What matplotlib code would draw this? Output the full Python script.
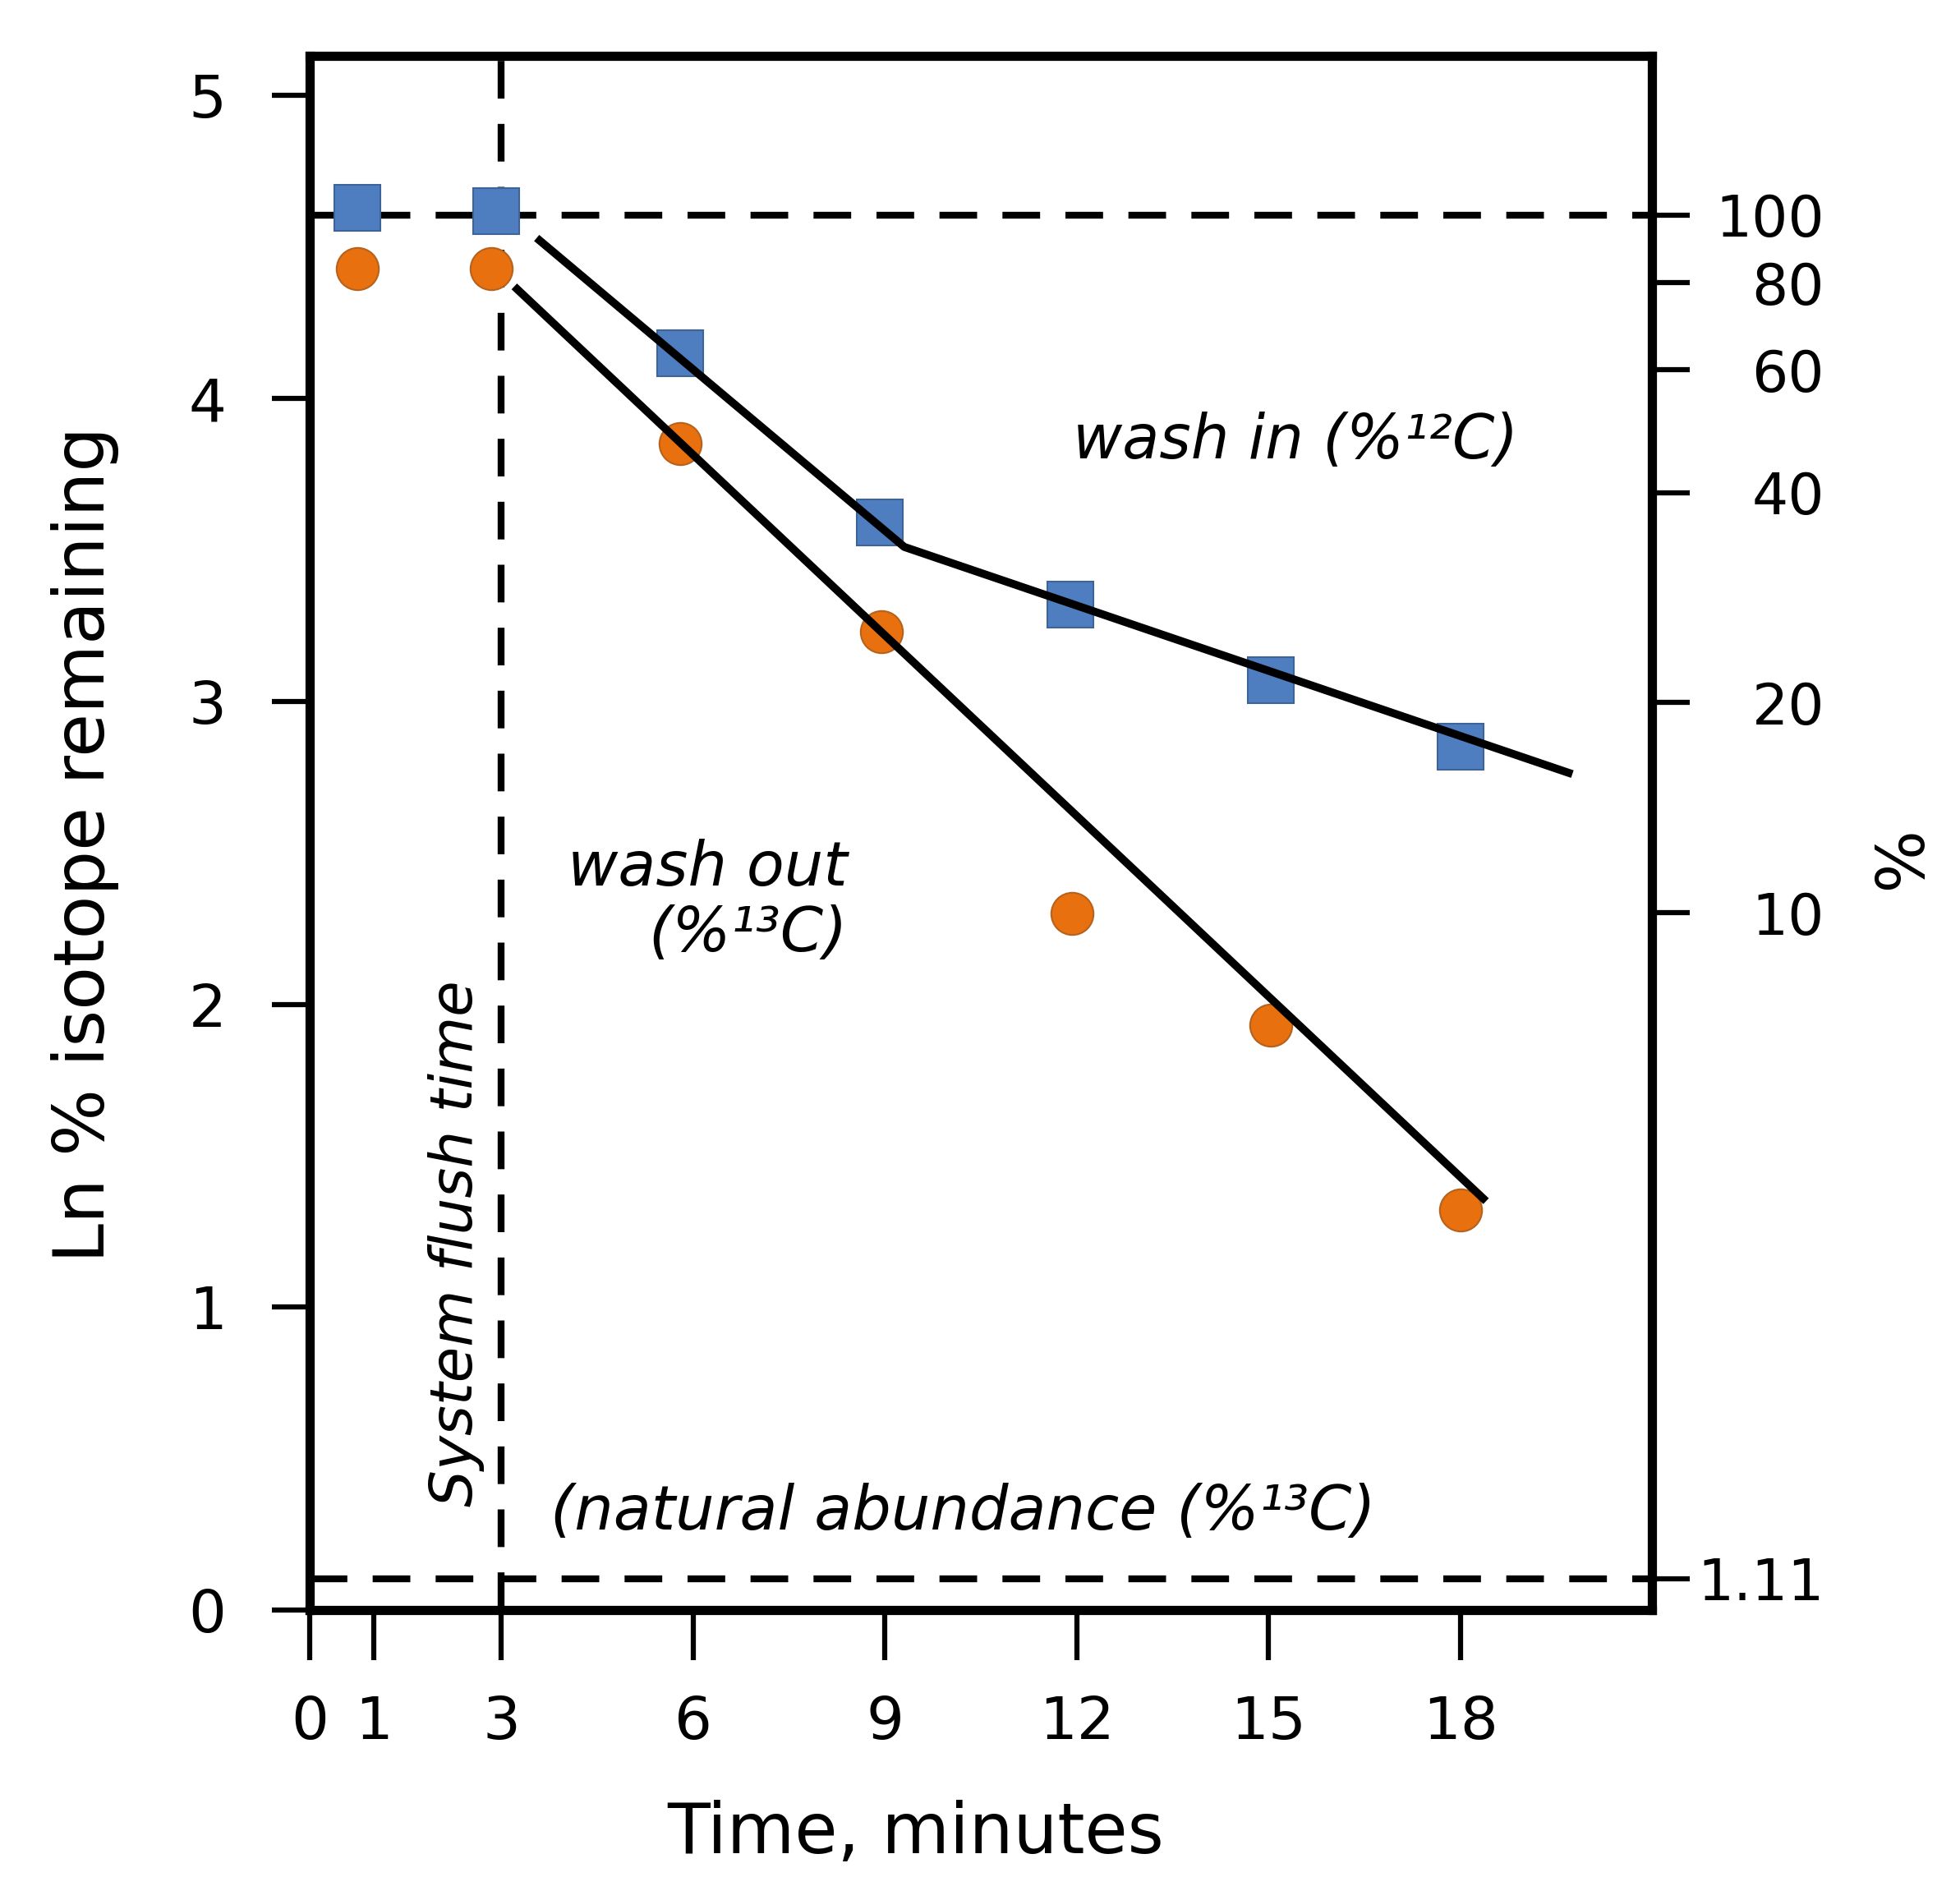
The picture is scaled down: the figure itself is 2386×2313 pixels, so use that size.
import numpy as np
import matplotlib
matplotlib.use("Agg")
import matplotlib.pyplot as plt

# ---- data ----
time_in = [0.74, 2.92, 5.79, 8.92, 11.9, 15.03, 18.0]
ln_in = [4.63, 4.62, 4.15, 3.59, 3.32, 3.07, 2.85]
time_out = [0.74, 2.84, 5.79, 8.94, 11.92, 15.03, 18.0]
ln_out = [4.43, 4.43, 3.85, 3.23, 2.30, 1.93, 1.32]
fit_in_t = [3.55, 9.3, 19.75]
fit_in_y = [4.53, 3.51, 2.76]
fit_out_t = [3.2, 18.4]
fit_out_y = [4.37, 1.35]
flush_time = 3
x_ticks = [0, 1, 3, 6, 9, 12, 15, 18]
y_ticks = [0, 1, 2, 3, 4, 5]
pct_ticks = [100, 80, 60, 40, 20, 10, 1.11]
pct_labels = ["100", "80", "60", "40", "20", "10", "1.11"]
natural_abundance = 1.11
full_pct = 100

plt.rcParams['font.family'] = ['DejaVu Sans']

fig = plt.figure(figsize=(23.86, 23.13), dpi=100)
ax = fig.add_axes([0.158, 0.1526, 0.685, 0.8178])

blue = "#4F7EC0"
blue_e = "#3D6499"
orange = "#E8700F"
orange_e = "#B5621E"

ax.set_xlim(0, 21)
ax.set_ylim(0, 5.13)

dash_kw = dict(color="black", lw=6, dashes=(5.5, 3.7))
ax.axhline(np.log(full_pct), **dash_kw, zorder=1)
ax.axhline(np.log(natural_abundance), **dash_kw, zorder=1)
ax.axvline(flush_time, **dash_kw, zorder=1)

ax.plot(time_in, ln_in, linestyle="none", marker="s", ms=40, mfc=blue, mec=blue_e, mew=1.5, zorder=3)
ax.plot(time_out, ln_out, linestyle="none", marker="o", ms=37, mfc=orange, mec=orange_e, mew=1.5, zorder=3)
ax.plot(fit_in_t, fit_in_y, color="black", lw=7, zorder=4, solid_capstyle="butt")
ax.plot(fit_out_t, fit_out_y, color="black", lw=7, zorder=4, solid_capstyle="butt")

for s in ax.spines.values():
    s.set_linewidth(8)

ax.set_xticks(x_ticks)
ax.set_xticklabels([str(v) for v in x_ticks])
ax.set_yticks(y_ticks)
ax.set_yticklabels([str(v) for v in y_ticks])
ax.tick_params(axis="x", direction="out", length=44, width=4.5, labelsize=52, pad=30)
ax.tick_params(axis="y", direction="out", length=33, width=4.5, labelsize=52, pad=40)

ax2 = ax.twinx()
ax2.set_ylim(ax.get_ylim())
ax2.set_yticks(np.log(pct_ticks))
ax2.set_yticklabels(pct_labels)
ax2.tick_params(axis="y", direction="out", length=33, width=4.5, labelsize=50, pad=118)
for lab in ax2.get_yticklabels():
    lab.set_ha("right")
for s in ax2.spines.values():
    s.set_linewidth(8)

ax.set_xlabel("Time, minutes", fontsize=61)
ax.xaxis.set_label_coords(0.4516, -0.122)
ax.set_ylabel("Ln % isotope remaining", fontsize=62)
ax.yaxis.set_label_coords(-0.142, 0.493)
ax2.set_ylabel("%", fontsize=58, rotation=-90)
ax2.yaxis.set_label_coords(1.2, 0.48)

ax.text(11.94, 3.86, "wash in (%¹²C)", style="italic", fontsize=53, ha="left", va="center")
ax.text(8.41, 2.34, "wash out\n(%¹³C)", style="italic", fontsize=54, ha="right", va="center",
        multialignment="right", linespacing=1.15)
ax.text(3.76, 0.322, "(natural abundance (%¹³C)", style="italic", fontsize=54, ha="left", va="center")
ax.text(2.29, 1.21, "System flush time", style="italic", fontsize=51, rotation=90, ha="center", va="center")

fig.savefig("out.png", dpi=100)
